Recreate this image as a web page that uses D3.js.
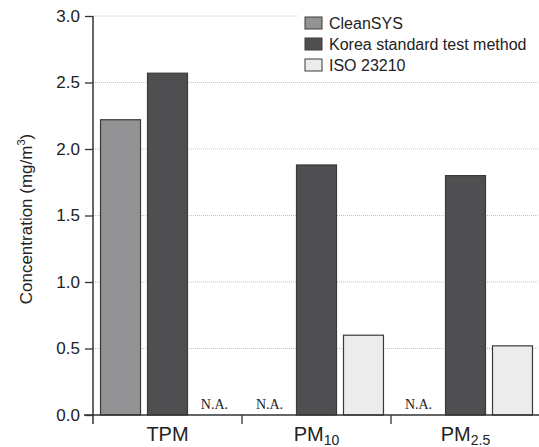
<!DOCTYPE html>
<html><head><meta charset="utf-8">
<script src="https://cdn.jsdelivr.net/npm/d3@7"></script>
<style>body{margin:0;background:#fff}svg{display:block}</style>
</head><body>
<script>
const categories = ["TPM", "PM10", "PM2.5"];
const categoryMain = ["TPM", "PM", "PM"];
const categorySub = ["", "10", "2.5"];
const seriesNames = ["CleanSYS", "Korea standard test method", "ISO 23210"];
const cleanSYS = [2.22, null, null];
const koreaStd = [2.57, 1.88, 1.80];
const iso23210 = [null, 0.60, 0.52];
const seriesColors = ["#939395", "#4f4f51", "#ececec"];
const yTicks = [0, 0.5, 1.0, 1.5, 2.0, 2.5, 3.0];

(function () {
const W = 539, H = 447;
const svg = d3.select("body").append("svg").attr("width", W).attr("height", H);
const mLeft = 93, mRight = 540, mTop = 16, mBottom = 415;
const sans = "Liberation Sans, Arial, Helvetica, sans-serif";

const y = d3.scaleLinear().domain([0, 3]).range([mBottom, mTop]);
const x0 = d3.scaleBand().domain(categories).range([mLeft, mRight]).padding(0);
const x1 = d3.scaleBand().domain(seriesNames).range([0, x0.bandwidth()]).paddingInner(0.149).paddingOuter(0.16);

const allSeries = [cleanSYS, koreaStd, iso23210];

// gridlines
svg.append("g").selectAll("line").data(yTicks.filter(d => d > 0)).join("line")
  .attr("x1", mLeft).attr("x2", W).attr("y1", d => y(d)).attr("y2", d => y(d))
  .attr("stroke", "#c4c4c4").attr("stroke-width", 1).attr("stroke-dasharray", "1,1");

// legend background
svg.append("rect").attr("x", 298).attr("y", 4).attr("width", 241).attr("height", 72).attr("fill", "#fff");

// bars
const groups = svg.append("g").selectAll("g").data(categories).join("g")
  .attr("transform", d => `translate(${x0(d)},0)`);
groups.each(function(cat, ci) {
  const g = d3.select(this);
  seriesNames.forEach((s, si) => {
    const v = allSeries[si][ci];
    if (v == null) {
      g.append("text").attr("x", x1(s) + x1.bandwidth() / 2).attr("y", mBottom - 6)
        .attr("text-anchor", "middle").attr("font-family", "Liberation Serif, Times New Roman, serif")
        .attr("font-size", 14).attr("fill", "#222").text("N.A.");
    } else {
      g.append("rect").attr("x", x1(s)).attr("width", x1.bandwidth())
        .attr("y", y(v)).attr("height", y(0) - y(v))
        .attr("fill", seriesColors[si]).attr("stroke", "#3a3a3a").attr("stroke-width", 1.2);
    }
  });
});

// y axis
const yAxis = d3.axisLeft(y).tickValues(yTicks).tickFormat(d3.format(".1f")).tickSizeOuter(0).tickSize(8).tickPadding(5);
const ya = svg.append("g").attr("transform", `translate(${mLeft},0)`).call(yAxis);
ya.select(".domain").remove();
ya.selectAll("line").attr("stroke", "#333").attr("stroke-width", 1.3);
ya.selectAll("text").attr("font-family", sans).attr("font-size", 17).attr("fill", "#222");
svg.append("line").attr("x1", mLeft).attr("x2", mLeft).attr("y1", mTop).attr("y2", mBottom + 9)
  .attr("stroke", "#333").attr("stroke-width", 1.5);

// x axis
svg.append("line").attr("x1", mLeft - 9).attr("x2", mRight).attr("y1", mBottom).attr("y2", mBottom)
  .attr("stroke", "#333").attr("stroke-width", 1.5);
svg.append("g").selectAll("line").data(categories.slice(1)).join("line")
  .attr("x1", d => x0(d)).attr("x2", d => x0(d)).attr("y1", mBottom).attr("y2", mBottom + 9)
  .attr("stroke", "#333").attr("stroke-width", 1.3);
const xl = svg.append("g").selectAll("text").data(categories).join("text")
  .attr("x", d => x0(d) + x0.bandwidth() / 2).attr("y", 441)
  .attr("text-anchor", "middle").attr("font-family", sans)
  .attr("font-size", 20).attr("fill", "#222");
xl.each(function(d, i) {
  const t = d3.select(this);
  t.append("tspan").text(categoryMain[i]);
  if (categorySub[i]) t.append("tspan").attr("font-size", 14).attr("dy", 4).text(categorySub[i]);
});

// y label
const yl = svg.append("text").attr("transform", "translate(32,219) rotate(-90)")
  .attr("text-anchor", "middle").attr("font-family", sans)
  .attr("font-size", 17).attr("fill", "#222");
yl.append("tspan").text("Concentration (mg/m");
const sup = yl.append("tspan").attr("font-size", 11).attr("dy", -7).text("3");
yl.append("tspan").attr("dy", 7).text(")");
const wLab = yl.node().getBBox().width;
if (wLab > 188) {
  const k = 188 / wLab;
  yl.attr("font-size", 17 * k);
  sup.attr("font-size", 11 * k);
}

// legend
const lg = svg.append("g").selectAll("g").data(seriesNames).join("g")
  .attr("transform", (d, i) => `translate(305,${23 + i * 21})`);
lg.append("rect").attr("x", 0).attr("y", -6).attr("width", 17).attr("height", 12)
  .attr("fill", (d, i) => seriesColors[i]).attr("stroke", "#3a3a3a").attr("stroke-width", 1);
lg.append("text").attr("x", 24).attr("y", 6).attr("font-family", sans)
  .attr("font-size", 16).attr("fill", "#222").text(d => d);
})();
</script>
</body></html>
